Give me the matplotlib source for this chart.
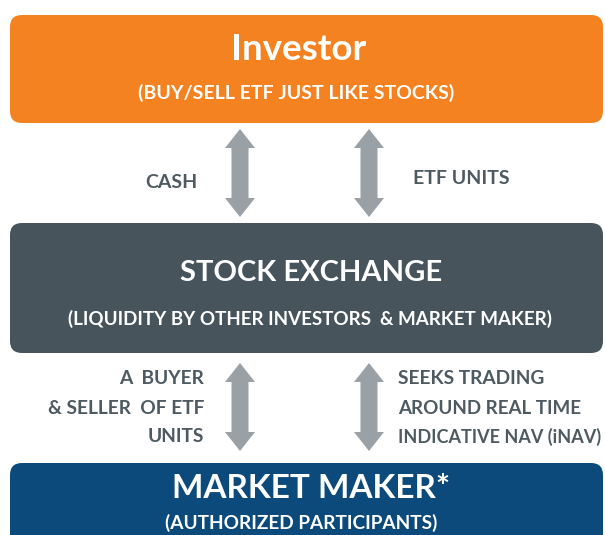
import matplotlib.pyplot as plt
from matplotlib.patches import FancyBboxPatch, Polygon

plt.rcParams['font.family'] = ['Lato', 'DejaVu Sans']

# boxes: title, subtitle, colour, top, bottom (pixels)
box_titles = ['Investor', 'STOCK EXCHANGE', 'MARKET MAKER*']
box_subtitles = ['(BUY/SELL ETF JUST LIKE STOCKS)',
                 '(LIQUIDITY BY OTHER INVESTORS  & MARKET MAKER)',
                 '(AUTHORIZED PARTICIPANTS)']
box_colors = ['#F58220', '#47545B', '#0B4A7B']
box_top = [15, 223, 463]
box_bottom = [123, 353, 560]
title_x = [299, 311, 311]
title_y = [50, 273, 489]
sub_x = [296, 310, 301]
sub_y = [93, 319, 523]
title_size = [26.5, 21, 24]
sub_size = [14, 13.5, 13.7]

# arrows between the boxes
arrow_x = [240, 369]
arrow_rows = [(129, 217), (363, 451)]

upper_left = 'CASH'
upper_right = 'ETF UNITS'
lower_left = ['A  BUYER', '& SELLER  OF ETF', 'UNITS']
lower_right = ['SEEKS TRADING', 'AROUND REAL TIME', 'INDICATIVE NAV (iNAV)']
right_size = [13.8, 13.5, 13.0]

text_col = '#4D5A61'
arrow_col = '#9AA1A6'

fig = plt.figure(figsize=(6.05, 5.35), dpi=100)
ax = fig.add_axes([0, 0, 1, 1])
ax.set_xlim(0, 605)
ax.set_ylim(535, 0)
ax.axis('off')

for i in range(3):
    ax.add_patch(FancyBboxPatch((10 + 12, box_top[i] + 12), 593 - 24,
                                box_bottom[i] - box_top[i] - 24,
                                boxstyle='round,pad=12', fc=box_colors[i], ec='none'))
    ax.text(title_x[i], title_y[i], box_titles[i], color='white', fontsize=title_size[i],
            fontweight='bold', ha='center', va='center')
    ax.text(sub_x[i], sub_y[i], box_subtitles[i], color='white', fontsize=sub_size[i],
            fontweight='bold', ha='center', va='center')


def double_arrow(xc, y0, y1, head_w=30, head_l=19, shaft_w=17):
    hw, sw = head_w / 2, shaft_w / 2
    pts = [(xc, y0), (xc + hw, y0 + head_l), (xc + sw, y0 + head_l),
           (xc + sw, y1 - head_l), (xc + hw, y1 - head_l), (xc, y1),
           (xc - hw, y1 - head_l), (xc - sw, y1 - head_l), (xc - sw, y0 + head_l),
           (xc - hw, y0 + head_l)]
    ax.add_patch(Polygon(pts, closed=True, fc=arrow_col, ec='none'))


for y0, y1 in arrow_rows:
    for xc in arrow_x:
        double_arrow(xc, y0, y1)

ax.text(171, 183, upper_left, color=text_col, fontsize=14, fontweight='bold',
        ha='center', va='center')
ax.text(461, 178, upper_right, color=text_col, fontsize=14, fontweight='bold',
        ha='center', va='center')

line_y = [379, 408, 437]
for y, s in zip(line_y, lower_left):
    ax.text(204, y, s, color=text_col, fontsize=13.8, fontweight='bold',
            ha='right', va='center')
for y, s, fs in zip(line_y, lower_right, right_size):
    ax.text(398, y, s, color=text_col, fontsize=fs, fontweight='bold',
            ha='left', va='center')

fig.savefig('out.png', dpi=100, facecolor='white')
